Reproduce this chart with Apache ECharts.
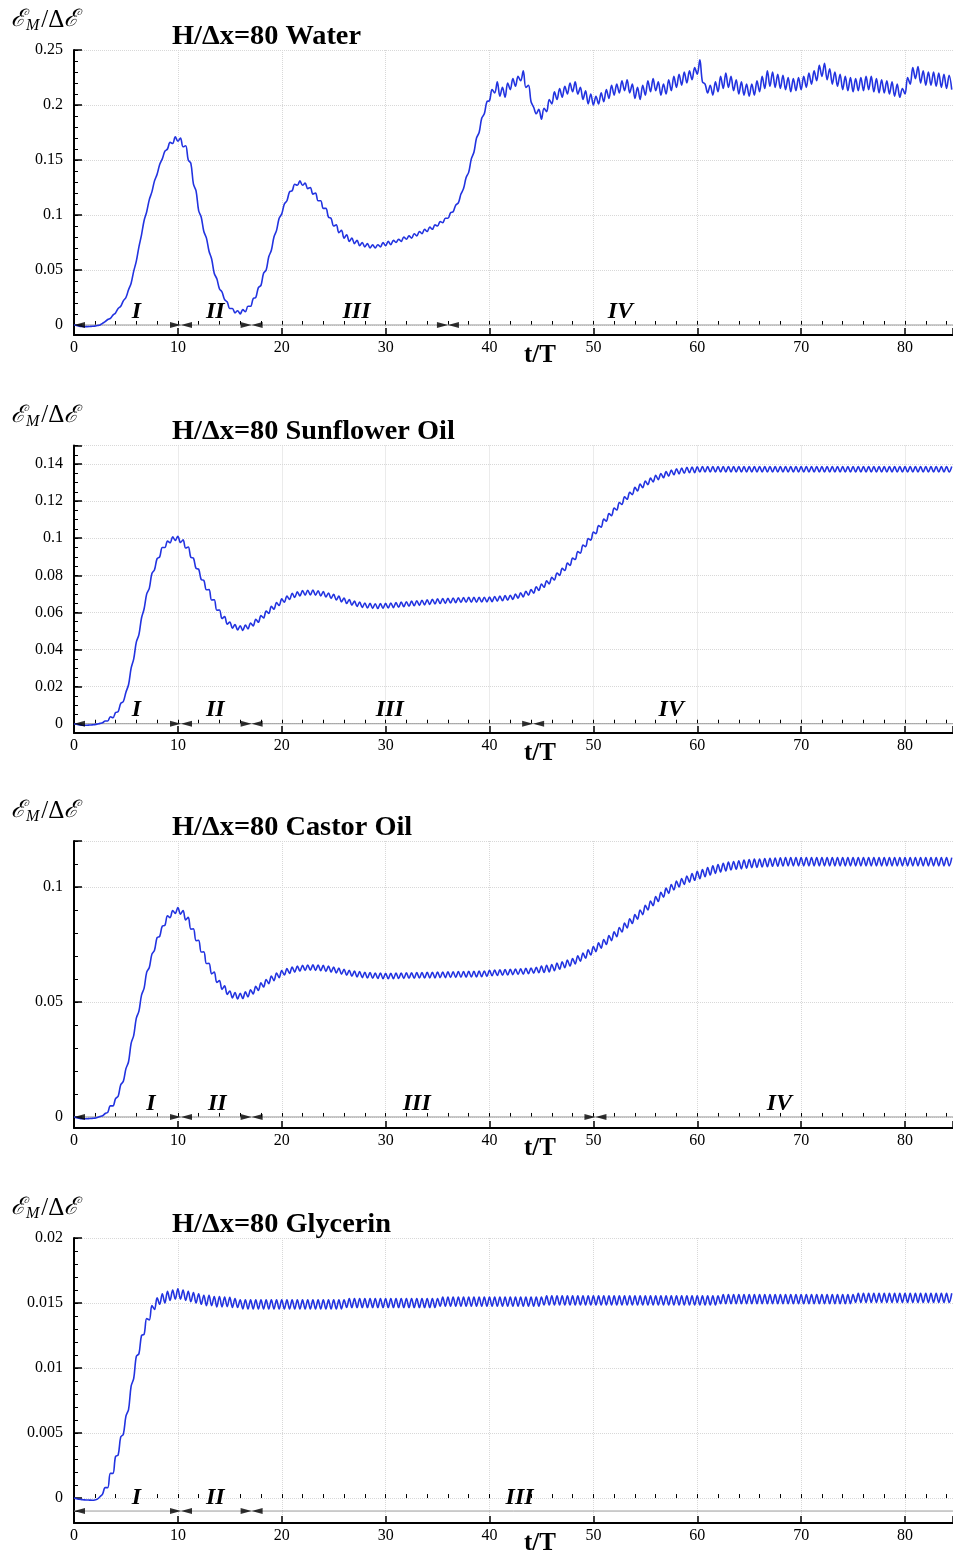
<!DOCTYPE html>
<html><head><meta charset="utf-8">
<script src="https://cdn.jsdelivr.net/npm/echarts@6/dist/echarts.min.js"></script>
<style>html,body{margin:0;padding:0;background:#fff}#c{width:953px;height:1557px}</style>
</head><body><div id="c"></div>
<script>
// sampling step of the curves (t/T)
const dt = 0.25;

const titles = ['H/\u0394x=80 Water', 'H/\u0394x=80 Sunflower Oil', 'H/\u0394x=80 Castor Oil', 'H/\u0394x=80 Glycerin'];

const water = [
0,-0.0005,-0.001,-0.0013,-0.0015,-0.0015,-0.0014,-0.0012,-0.001,-0.0005,0,0.0015,0.003,0.005,0.006,0.009,0.011,0.015,0.017,0.022,
0.025,0.032,0.038,0.049,0.058,0.071,0.082,0.095,0.103,0.114,0.121,0.131,0.137,0.146,0.151,0.158,0.160,0.166,0.165,0.171,
0.167,0.170,0.162,0.163,0.150,0.147,0.128,0.122,0.104,0.098,0.085,0.079,0.067,0.060,0.047,0.042,0.033,0.030,0.023,0.021,
0.015,0.015,0.011,0.013,0.010,0.014,0.012,0.017,0.017,0.024,0.025,0.034,0.036,0.047,0.050,0.062,0.068,0.080,0.086,0.097,
0.101,0.110,0.113,0.121,0.122,0.128,0.127,0.131,0.127,0.129,0.124,0.125,0.119,0.120,0.113,0.113,0.106,0.106,0.098,0.097,
0.090,0.091,0.084,0.086,0.079,0.082,0.076,0.079,0.074,0.077,0.072,0.075,0.071,0.074,0.070,0.073,0.070,0.073,0.071,0.075,
0.072,0.076,0.073,0.077,0.075,0.078,0.076,0.080,0.078,0.081,0.079,0.083,0.081,0.085,0.083,0.087,0.085,0.089,0.087,0.091,
0.090,0.094,0.093,0.097,0.097,0.102,0.103,0.109,0.111,0.119,0.124,0.134,0.139,0.151,0.157,0.170,0.175,0.188,0.192,0.203,
0.204,0.214,0.211,0.221,0.208,0.216,0.207,0.220,0.214,0.224,0.217,0.226,0.222,0.231,0.216,0.218,0.203,0.198,0.192,0.196,
0.187,0.197,0.194,0.205,0.201,0.212,0.205,0.215,0.207,0.217,0.210,0.220,0.212,0.221,0.210,0.216,0.205,0.213,0.201,0.210,
0.200,0.208,0.201,0.211,0.203,0.214,0.206,0.218,0.209,0.219,0.211,0.222,0.213,0.223,0.211,0.219,0.206,0.216,0.205,0.218,
0.209,0.222,0.212,0.224,0.213,0.221,0.209,0.219,0.210,0.223,0.213,0.226,0.216,0.228,0.218,0.230,0.220,0.231,0.223,0.234,
0.228,0.241,0.221,0.219,0.211,0.218,0.209,0.221,0.212,0.226,0.215,0.229,0.216,0.226,0.213,0.223,0.210,0.221,0.209,0.219,
0.208,0.219,0.209,0.222,0.212,0.226,0.215,0.231,0.217,0.230,0.216,0.228,0.215,0.227,0.214,0.225,0.212,0.224,0.213,0.225,
0.214,0.226,0.216,0.229,0.219,0.231,0.222,0.236,0.226,0.238,0.223,0.233,0.219,0.230,0.217,0.228,0.214,0.226,0.213,0.225,
0.212,0.224,0.213,0.225,0.213,0.226,0.214,0.226,0.212,0.224,0.211,0.223,0.211,0.222,0.210,0.221,0.208,0.219,0.207,0.215,
0.210,0.225,0.219,0.234,0.224,0.235,0.220,0.231,0.218,0.230,0.218,0.230,0.217,0.229,0.216,0.228,0.215,0.227,0.214
];

const sunflower = [
0,-0.0003,-0.0006,-0.0008,-0.0008,-0.0008,-0.0007,-0.0006,-0.0005,-0.0002,0.0002,0.0005,0.0015,0.0015,0.0038,0.0032,0.006,0.0065,0.011,0.012,
0.017,0.021,0.030,0.035,0.044,0.048,0.057,0.062,0.070,0.073,0.081,0.083,0.089,0.090,0.095,0.095,0.0985,0.0975,0.1008,0.0988,
0.1011,0.0977,0.0991,0.0947,0.0953,0.0897,0.0893,0.0837,0.0833,0.0777,0.0773,0.0722,0.0723,0.0667,0.0668,0.0612,0.0613,0.0567,0.0578,0.0537,
0.0548,0.0515,0.0535,0.0505,0.0528,0.0503,0.0532,0.0511,0.0543,0.0527,0.0563,0.0547,0.0583,0.057,0.0608,0.0595,0.0633,0.0617,0.0653,0.0637,
0.0673,0.0655,0.0688,0.067,0.0703,0.0681,0.0711,0.0689,0.0718,0.0693,0.072,0.0694,0.0721,0.0693,0.0717,0.0689,0.0713,0.0683,0.0705,0.0676,
0.0698,0.0667,0.0688,0.0657,0.0678,0.0648,0.067,0.0639,0.0661,0.0632,0.0656,0.0627,0.0651,0.0624,0.0649,0.0622,0.0647,0.0621,0.0648,0.0622,
0.0649,0.0624,0.0651,0.0626,0.0653,0.0628,0.0656,0.0631,0.0658,0.0633,0.0661,0.0636,0.0663,0.0638,0.0666,0.0641,0.0668,0.0643,0.0671,0.0646,
0.0673,0.0648,0.0675,0.0649,0.0676,0.0651,0.0678,0.0652,0.0679,0.0654,0.068,0.0655,0.0681,0.0655,0.0681,0.0655,0.0681,0.0656,0.0682,0.0657,
0.0683,0.0658,0.0686,0.0661,0.0688,0.0663,0.0691,0.0666,0.0693,0.067,0.0699,0.0677,0.0706,0.0684,0.0714,0.0693,0.0723,0.0704,0.0738,0.0719,
0.0753,0.0736,0.0771,0.0754,0.0789,0.0775,0.0813,0.08,0.0838,0.0826,0.0866,0.0853,0.0893,0.0885,0.0928,0.092,0.0963,0.0955,0.0998,0.099,
0.1033,0.1025,0.1068,0.106,0.1103,0.1092,0.1133,0.1122,0.1163,0.1152,0.1193,0.1182,0.1223,0.121,0.1248,0.1235,0.1274,0.1255,0.1292,0.1272,
0.1309,0.1289,0.1324,0.1304,0.1339,0.1316,0.1349,0.1326,0.1359,0.1335,0.1367,0.1342,0.1375,0.1347,0.1379,0.135,0.1382,0.1353,0.1384,0.1354,
0.1385,0.1357,0.1387,0.1357,0.1387,0.1357,0.1387,0.1357,0.1387,0.1357,0.1387,0.1357,0.1387,0.1357,0.1387,0.1357,0.1387,0.1357,0.1387,0.1357,
0.1387,0.1357,0.1387,0.1357,0.1387,0.1357,0.1387,0.1357,0.1387,0.1357,0.1387,0.1357,0.1387,0.1357,0.1387,0.1357,0.1387,0.1357,0.1387,0.1357,
0.1387,0.1357,0.1387,0.1357,0.1387,0.1357,0.1387,0.1357,0.1387,0.1357,0.1387,0.1357,0.1387,0.1357,0.1387,0.1357,0.1387,0.1357,0.1387,0.1357,
0.1387,0.1357,0.1387,0.1357,0.1387,0.1357,0.1387,0.1357,0.1387,0.1357,0.1387,0.1357,0.1387,0.1357,0.1387,0.1357,0.1387,0.1357,0.1387,0.1357,
0.1387,0.1357,0.1387,0.1357,0.1387,0.1357,0.1387,0.1357,0.1387,0.1357,0.1387,0.1357,0.1387,0.1357,0.1387,0.1357,0.1387,0.1357,0.1387
];

const castor = [
0,-0.0003,-0.0006,-0.0008,-0.0008,-0.0008,-0.0007,-0.0006,-0.0005,-0.0002,0.0002,0.0005,0.0015,0.002,0.0048,0.0048,0.008,0.009,0.014,0.0155,
0.021,0.024,0.032,0.0355,0.043,0.046,0.053,0.056,0.063,0.065,0.0708,0.0725,0.078,0.0785,0.083,0.0833,0.0875,0.0867,0.0898,0.0885,
0.0911,0.0882,0.0898,0.0857,0.0868,0.0817,0.0818,0.0767,0.0768,0.0717,0.0718,0.0667,0.0668,0.0622,0.063,0.0585,0.0593,0.0555,0.057,0.0533,
0.0548,0.0518,0.0541,0.0513,0.0538,0.0515,0.0544,0.0522,0.0553,0.0535,0.0568,0.055,0.0583,0.0565,0.0598,0.058,0.0613,0.0593,0.0626,0.0606,
0.0637,0.0617,0.0645,0.0624,0.0652,0.063,0.0656,0.0634,0.066,0.0637,0.0661,0.0638,0.0662,0.0637,0.0661,0.0636,0.0659,0.0633,0.0656,0.063,
0.0652,0.0626,0.0647,0.0621,0.0642,0.0616,0.0638,0.0612,0.0634,0.0609,0.0632,0.0606,0.0629,0.0604,0.0628,0.0603,0.0626,0.0602,0.0626,0.0601,
0.0625,0.0601,0.0625,0.0601,0.0626,0.0602,0.0626,0.0602,0.0627,0.0603,0.0627,0.0603,0.0628,0.0604,0.0628,0.0604,0.0629,0.0605,0.0629,0.0605,
0.063,0.0606,0.063,0.0606,0.0631,0.0607,0.0631,0.0607,0.0632,0.0608,0.0632,0.0608,0.0633,0.0609,0.0633,0.0609,0.0634,0.061,0.0635,0.0611,
0.0638,0.0614,0.0639,0.0615,0.064,0.0616,0.0641,0.0617,0.0642,0.0619,0.0643,0.062,0.0644,0.0621,0.0646,0.0623,0.0648,0.0625,0.0651,0.0627,
0.0656,0.0628,0.066,0.0631,0.0663,0.0636,0.0669,0.0642,0.0675,0.0649,0.0682,0.0656,0.0689,0.0665,0.0701,0.0677,0.0713,0.069,0.0727,0.0704,
0.0741,0.0719,0.0757,0.0734,0.0772,0.075,0.0789,0.0767,0.0805,0.0784,0.0824,0.0804,0.0843,0.0822,0.0862,0.0841,0.088,0.086,0.09,0.088,
0.092,0.09,0.0939,0.0919,0.0958,0.0937,0.0977,0.0956,0.0995,0.0972,0.1011,0.0987,0.1026,0.1,0.1037,0.1011,0.1048,0.1021,0.1058,0.1029,
0.1068,0.1036,0.1076,0.1045,0.1085,0.1052,0.1092,0.1059,0.1098,0.1065,0.1103,0.107,0.1108,0.1074,0.1111,0.1077,0.1114,0.1079,0.1117,0.1082,
0.1119,0.1084,0.1121,0.1085,0.1122,0.1087,0.1124,0.1088,0.1125,0.109,0.1126,0.109,0.1127,0.1091,0.1128,0.1092,0.1128,0.1092,0.1128,0.1092,
0.1128,0.1092,0.1128,0.1092,0.1128,0.1092,0.1128,0.1092,0.1128,0.1092,0.1128,0.1092,0.1128,0.1092,0.1128,0.1092,0.1128,0.1092,0.1128,0.1092,
0.1128,0.1092,0.1128,0.1092,0.1128,0.1092,0.1128,0.1092,0.1128,0.1092,0.1128,0.1092,0.1128,0.1092,0.1128,0.1092,0.1128,0.1092,0.1128,0.1092,
0.1128,0.1092,0.1128,0.1092,0.1128,0.1092,0.1128,0.1092,0.1128,0.1092,0.1128,0.1092,0.1128,0.1092,0.1128,0.1092,0.1128,0.1092,0.1128
];

const glycerin = [
0,-0.00005,-0.0001,-0.00012,-0.00014,-0.00015,-0.00016,-0.00017,-0.00015,-0.00008,0.0001,0.0003,0.0008,0.0008,0.0019,0.0019,0.0032,0.0033,0.0047,0.0049,
0.0063,0.0068,0.0086,0.0092,0.0109,0.0111,0.0125,0.0126,0.0138,0.0137,0.0148,0.0145,0.0154,0.0149,0.0157,0.015,0.0159,0.0152,0.016,0.0153,
0.0161,0.0153,0.016,0.0152,0.0159,0.0151,0.0158,0.015,0.0157,0.0149,0.0156,0.0148,0.0156,0.0148,0.0155,0.0147,0.0155,0.0147,0.01545,0.01472,
0.01543,0.01465,0.01535,0.01465,0.01525,0.01455,0.01525,0.01455,0.01525,0.01455,0.01525,0.01455,0.01525,0.01455,0.01525,0.01455,0.01525,0.01455,0.01525,0.01455,
0.01525,0.01455,0.01525,0.01455,0.01525,0.01455,0.01525,0.01455,0.01525,0.01455,0.01525,0.01455,0.01525,0.01455,0.01525,0.01455,0.01525,0.01455,0.01525,0.01455,
0.01525,0.01455,0.01525,0.01455,0.01525,0.01465,0.01535,0.01465,0.01535,0.01465,0.01535,0.01465,0.01535,0.01465,0.01535,0.01465,0.01535,0.01465,0.01535,0.01465,
0.01535,0.01465,0.01535,0.01465,0.01535,0.01465,0.01535,0.01465,0.01535,0.01465,0.01535,0.01465,0.01535,0.01465,0.01535,0.01465,0.01535,0.01465,0.01535,0.01465,
0.01535,0.01475,0.01545,0.01475,0.01545,0.01475,0.01545,0.01475,0.01545,0.01475,0.01545,0.01475,0.01545,0.01475,0.01545,0.01475,0.01545,0.01475,0.01545,0.01475,
0.01545,0.01475,0.01545,0.01475,0.01545,0.01475,0.01545,0.01475,0.01545,0.01475,0.01545,0.01475,0.01545,0.01475,0.01545,0.01475,0.01545,0.01475,0.01545,0.01475,
0.01545,0.01485,0.01555,0.01485,0.01555,0.01485,0.01555,0.01485,0.01555,0.01485,0.01555,0.01485,0.01555,0.01485,0.01555,0.01485,0.01555,0.01485,0.01555,0.01485,
0.01555,0.01485,0.01555,0.01485,0.01555,0.01485,0.01555,0.01485,0.01555,0.01485,0.01555,0.01485,0.01555,0.01485,0.01555,0.01485,0.01555,0.01485,0.01555,0.01485,
0.01555,0.01485,0.01555,0.01485,0.01555,0.01485,0.01555,0.01485,0.01555,0.01485,0.01555,0.01485,0.01555,0.01485,0.01555,0.01485,0.01555,0.01485,0.01555,0.01485,
0.01555,0.01485,0.01555,0.01485,0.01555,0.01485,0.01555,0.01485,0.01555,0.01495,0.01565,0.01495,0.01565,0.01495,0.01565,0.01495,0.01565,0.01495,0.01565,0.01495,
0.01565,0.01495,0.01565,0.01495,0.01565,0.01495,0.01565,0.01495,0.01565,0.01495,0.01565,0.01495,0.01565,0.01495,0.01565,0.01495,0.01565,0.01495,0.01565,0.01495,
0.01565,0.01495,0.01565,0.01495,0.01565,0.01495,0.01565,0.01495,0.01565,0.01495,0.01565,0.01495,0.01565,0.01495,0.01565,0.01495,0.01565,0.01495,0.01565,0.01495,
0.01565,0.01505,0.01575,0.01505,0.01575,0.01505,0.01575,0.01505,0.01575,0.01505,0.01575,0.01505,0.01575,0.01505,0.01575,0.01505,0.01575,0.01505,0.01575,0.01505,
0.01575,0.01505,0.01575,0.01505,0.01575,0.01505,0.01575,0.01505,0.01575,0.01505,0.01575,0.01505,0.01575,0.01505,0.01575,0.01505,0.01575,0.01505,0.01575
];

// regime boundaries (t/T) marked by the arrow heads
const bounds = [[10.3, 17.1, 36.0], [10.3, 17.1, 44.2], [10.3, 17.1, 50.2], [10.3, 17.1]];
const regionNames = [['I','II','III','IV'], ['I','II','III','IV'], ['I','II','III','IV'], ['I','II','III']];
const regionX = [[6.0, 13.6, 27.2, 52.6], [6.0, 13.6, 30.4, 57.5], [7.4, 13.8, 33.0, 67.9], [6.0, 13.6, 42.9]];
const arrowLevel = [0, 0, 0, -0.001];

// axis ranges and tick steps
const xMax = 84.62;
const yMin = [-0.0091, -0.005, -0.0048, -0.00192];
const yMax = [0.25, 0.15, 0.12, 0.02];
const yMajor = [0.05, 0.02, 0.05, 0.005];
const yMinor = [0.01, 0.005, 0.01, 0.001];

const allData = [water, sunflower, castor, glycerin];

// layout (pixels)
const layout = [
  {top: 50, height: 285},
  {top: 445.5, height: 287.5},
  {top: 841, height: 287},
  {top: 1238, height: 285}
];

const chart = echarts.init(document.getElementById('c'), null, {renderer: 'canvas'});
const SERIF = '"Liberation Serif", "Times New Roman", serif';
const BLUE = '#2233e0';

function isMult(v, step) { const k = v / step; return Math.abs(k - Math.round(k)) < 1e-6; }

const grid = [], xAxis = [], yAxis = [], series = [], graphic = [];
layout.forEach((L, p) => {
  grid.push({left: 74, right: 0, top: L.top, height: L.height, outerBoundsMode: 'none', containLabel: false});
  xAxis.push({
    gridIndex: p, type: 'value', min: 0, max: xMax, minInterval: 10, maxInterval: 10, splitNumber: 8, position: 'bottom',
    axisLine: {show: true, onZero: false, lineStyle: {color: '#000', width: 2}},
    axisTick: {show: true, inside: true, length: 7, lineStyle: {color: '#000', width: 1.5}},
    axisLabel: {show: true, showMinLabel: true, showMaxLabel: true, fontFamily: SERIF, fontSize: 16, color: '#000', margin: 5,
      formatter: v => isMult(v, 10) ? String(Math.round(v)) : ''},
    splitLine: {show: true, lineStyle: {type: 'dotted', color: '#d8d8d8', width: 1}}
  });
  xAxis.push({
    gridIndex: p, type: 'value', min: 0, max: xMax, minInterval: 2, maxInterval: 2, splitNumber: 42, position: 'bottom',
    axisLine: {show: false}, axisLabel: {show: false}, splitLine: {show: false},
    axisTick: {show: true, inside: true, length: 4, lineStyle: {color: '#000', width: 1}}
  });
  yAxis.push({
    gridIndex: p, type: 'value', min: yMin[p], max: yMax[p], minInterval: yMajor[p], maxInterval: yMajor[p],
    splitNumber: Math.round((yMax[p] - yMin[p]) / yMajor[p]), position: 'left',
    axisLine: {show: true, onZero: false, lineStyle: {color: '#000', width: 2}},
    axisTick: {show: true, inside: true, length: 8, lineStyle: {color: '#000', width: 1.5}},
    axisLabel: {show: true, showMinLabel: true, showMaxLabel: true, fontFamily: SERIF, fontSize: 16, color: '#000', margin: 11,
      formatter: v => (isMult(v, yMajor[p]) && v >= -1e-9) ? String(+v.toFixed(4)) : ''},
    splitLine: {show: true, lineStyle: {type: 'dotted', color: '#d8d8d8', width: 1}}
  });
  yAxis.push({
    gridIndex: p, type: 'value', min: yMin[p], max: yMax[p], minInterval: yMinor[p], maxInterval: yMinor[p],
    splitNumber: Math.round((yMax[p] - yMin[p]) / yMinor[p]), position: 'left',
    axisLine: {show: false}, axisLabel: {show: false}, splitLine: {show: false},
    axisTick: {show: true, inside: true, length: 4, lineStyle: {color: '#000', width: 1}}
  });

  const xi = 2 * p, yi = 2 * p;
  // regime arrow baseline
  series.push({
    type: 'line', xAxisIndex: xi, yAxisIndex: yi, showSymbol: false, silent: true, z: 2,
    data: [[0, arrowLevel[p]], [xMax, arrowLevel[p]]],
    lineStyle: {color: '#9a9a9a', width: 1}
  });
  // arrow heads
  const heads = [{value: [0, arrowLevel[p]], symbolRotate: 90, symbolOffset: [5.5, 0]}];
  bounds[p].forEach(b => {
    heads.push({value: [b, arrowLevel[p]], symbolRotate: -90, symbolOffset: [-5.5, 0]});
    heads.push({value: [b, arrowLevel[p]], symbolRotate: 90, symbolOffset: [5.5, 0]});
  });
  series.push({
    type: 'scatter', xAxisIndex: xi, yAxisIndex: yi, symbol: 'triangle', symbolSize: [6, 11], silent: true, z: 4,
    itemStyle: {color: '#000'}, data: heads
  });
  // regime labels
  series.push({
    type: 'scatter', xAxisIndex: xi, yAxisIndex: yi, symbol: 'circle', symbolSize: 1, silent: true, z: 5, clip: false,
    itemStyle: {color: '#000', opacity: 0},
    labelLayout: {hideOverlap: false},
    data: regionX[p].map((x, k) => ({value: [x, arrowLevel[p]], name: regionNames[p][k]})),
    label: {show: true, position: 'top', distance: 1, formatter: '{b}', color: '#000', opacity: 1,
      textBorderWidth: 0, textShadowBlur: 0,
      fontFamily: SERIF, fontWeight: 'bold', fontStyle: 'italic', fontSize: 24, lineHeight: 24}
  });
  // main curve
  series.push({
    type: 'line', xAxisIndex: xi, yAxisIndex: yi, showSymbol: false, smooth: 0.35, z: 3,
    data: allData[p].map((v, i) => [i * dt, v]),
    lineStyle: {color: BLUE, width: 1.6}
  });

  // titles and axis names
  graphic.push({
    type: 'text', x: 172, y: L.top - 13, scaleX: 1.05,
    style: {text: titles[p], font: 'bold 27px ' + SERIF, fill: '#000', textAlign: 'left', textVerticalAlign: 'middle'}
  });
  graphic.push({
    type: 'text', x: 11, y: L.top - 30,
    style: {
      text: '{c|\u2130}{m|M}{n|/\u0394}{c|\u2130}', textVerticalAlign: 'middle', fill: '#000',
      rich: {
        c: {fontFamily: '"DejaVu Serif", serif', fontStyle: 'italic', fontSize: 24, fill: '#000'},
        m: {fontFamily: SERIF, fontStyle: 'italic', fontSize: 16, fill: '#000', padding: [12, 2, 0, 1]},
        n: {fontFamily: SERIF, fontSize: 25, fill: '#000'}
      }
    }
  });
  graphic.push({
    type: 'text', x: 540, y: L.top + L.height + 21,
    style: {text: 't/T', font: 'bold 25px ' + SERIF, fill: '#000', textAlign: 'center', textVerticalAlign: 'middle'}
  });
});

chart.setOption({
  animation: false,
  backgroundColor: '#fff',
  grid, xAxis, yAxis, series, graphic
});
</script>
</body></html>
